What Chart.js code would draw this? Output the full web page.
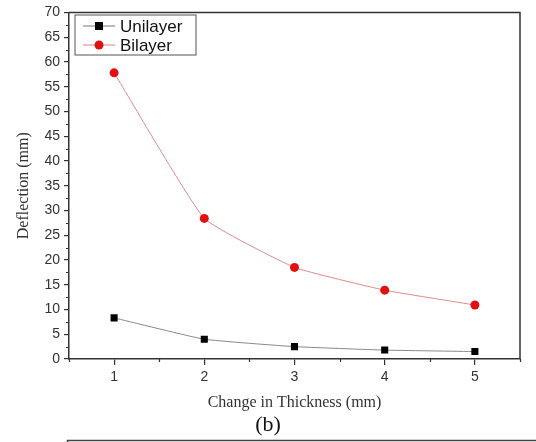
<!DOCTYPE html>
<html>
<head>
<meta charset="utf-8">
<script src="https://cdn.jsdelivr.net/npm/chart.js@4.4.0/dist/chart.umd.min.js"></script>
<style>
html,body{margin:0;padding:0;background:#fff;}
#wrap{width:536px;height:442px;position:relative;}
</style>
</head>
<body>
<div id="wrap"><canvas id="c" width="536" height="442"></canvas></div>
<script>
const thickness = [1, 2, 3, 4, 5];
const unilayer = [8.3, 4.0, 2.5, 1.8, 1.5];
const bilayer = [57.8, 28.4, 18.5, 13.9, 10.9];
const seriesNames = ['Unilayer', 'Bilayer'];
const xTitle = 'Change in Thickness (mm)';
const yTitle = 'Deflection (mm)';
const panelLabel = '(b)';

const toPts = (xs, ys) => xs.map((x, i) => ({x: x, y: ys[i]}));
const isMajorX = v => Number.isInteger(v);
const isMajorY = v => v % 5 === 0;

const framePlugin = {
  id: 'frame',
  afterDraw(chart) {
    const {ctx, chartArea: a} = chart;
    const xs = chart.scales.x, ys = chart.scales.y;
    ctx.save();
    ctx.strokeStyle = '#333';
    ctx.lineWidth = 1.5;
    ctx.beginPath();
    ctx.moveTo(a.left, a.top);
    ctx.lineTo(a.right, a.top);
    ctx.lineTo(a.right, a.bottom);
    ctx.stroke();
    // minor ticks
    ctx.lineWidth = 1.2;
    ctx.beginPath();
    xs.ticks.forEach(t => {
      if (!isMajorX(t.value)) {
        const px = Math.round(xs.getPixelForValue(t.value)) + 0.5;
        ctx.moveTo(px, a.bottom);
        ctx.lineTo(px, a.bottom + 3);
      }
    });
    ys.ticks.forEach(t => {
      if (!isMajorY(t.value)) {
        const py = Math.round(ys.getPixelForValue(t.value)) + 0.5;
        ctx.moveTo(a.left, py);
        ctx.lineTo(a.left - 3, py);
      }
    });
    ctx.stroke();
    // legend box
    const lx = 75, ly = 15, lw = 121, lh = 40;
    ctx.lineWidth = 1;
    ctx.strokeStyle = '#555';
    ctx.strokeRect(lx, ly, lw, lh);
    const items = [
      {name: seriesNames[0], line: '#777', fill: '#000', shape: 'rect', y: ly + 11},
      {name: seriesNames[1], line: '#e08080', fill: '#e01010', shape: 'circle', y: ly + 30}
    ];
    items.forEach(it => {
      ctx.strokeStyle = it.line;
      ctx.lineWidth = 1;
      ctx.beginPath();
      ctx.moveTo(lx + 8, it.y);
      ctx.lineTo(lx + 40, it.y);
      ctx.stroke();
      ctx.fillStyle = it.fill;
      if (it.shape === 'rect') {
        ctx.fillRect(lx + 24 - 4, it.y - 4, 8, 8);
      } else {
        ctx.beginPath();
        ctx.arc(lx + 24, it.y, 4.5, 0, Math.PI * 2);
        ctx.fill();
      }
      ctx.fillStyle = '#111';
      ctx.font = '17px "Liberation Sans", Arial, sans-serif';
      ctx.textBaseline = 'middle';
      ctx.textAlign = 'left';
      ctx.fillText(it.name, lx + 45, it.y + 1);
    });
    // panel label
    ctx.fillStyle = '#111';
    ctx.font = '22px "Liberation Serif", "Times New Roman", serif';
    ctx.textAlign = 'center';
    ctx.textBaseline = 'middle';
    ctx.fillText(panelLabel, 268, 425);
    // next figure frame edge
    ctx.strokeStyle = '#444';
    ctx.lineWidth = 1.5;
    ctx.beginPath();
    ctx.moveTo(67, 440.5);
    ctx.lineTo(536, 440.5);
    ctx.moveTo(67.5, 440);
    ctx.lineTo(67.5, 442);
    ctx.stroke();
    ctx.restore();
  }
};

new Chart(document.getElementById('c'), {
  type: 'scatter',
  data: {
    datasets: [
      {
        label: seriesNames[0],
        data: toPts(thickness, unilayer),
        showLine: true,
        borderColor: '#888',
        borderWidth: 1,
        backgroundColor: '#000',
        pointBackgroundColor: '#000',
        pointBorderColor: '#000',
        pointStyle: 'rect',
        pointRadius: 5,
        pointBorderWidth: 0,
        tension: 0.12
      },
      {
        label: seriesNames[1],
        data: toPts(thickness, bilayer),
        showLine: true,
        borderColor: '#e08a8a',
        borderWidth: 1,
        backgroundColor: '#e01010',
        pointBackgroundColor: '#e01010',
        pointBorderColor: '#e01010',
        pointStyle: 'circle',
        pointRadius: 4.5,
        pointBorderWidth: 0,
        tension: 0.12
      }
    ]
  },
  options: {
    responsive: false,
    animation: false,
    layout: {padding: {left: 10, top: 12, right: 16, bottom: 26}},
    plugins: {legend: {display: false}, tooltip: {enabled: false}},
    scales: {
      x: {
        type: 'linear',
        min: 0.5, max: 5.5,
        afterFit(s) { s.height = 57; },
        ticks: {
          stepSize: 0.5,
          autoSkip: false,
          maxRotation: 0,
          padding: 4,
          color: '#333',
          font: {family: '"Liberation Sans", Arial, sans-serif', size: 14},
          callback: v => isMajorX(v) ? String(v) : ''
        },
        grid: {display: true, drawOnChartArea: false, drawTicks: true, tickLength: 6, lineWidth: 1.2,
          color: '#333',
          tickColor: c => (c.tick && isMajorX(c.tick.value)) ? '#333' : 'rgba(0,0,0,0)'},
        border: {color: '#333', width: 1.5},
        title: {display: true, text: xTitle, color: '#333',
          font: {family: '"Liberation Serif", "Times New Roman", serif', size: 16}, padding: {top: 4, bottom: 4}}
      },
      y: {
        min: 0, max: 70,
        afterFit(s) { s.width = 59; },
        ticks: {
          stepSize: 2.5,
          autoSkip: false,
          padding: 4,
          color: '#333',
          font: {family: '"Liberation Sans", Arial, sans-serif', size: 14},
          callback: v => isMajorY(v) ? String(v) : ''
        },
        grid: {display: true, drawOnChartArea: false, drawTicks: true, tickLength: 5, lineWidth: 1.2,
          color: '#333',
          tickColor: c => (c.tick && isMajorY(c.tick.value)) ? '#333' : 'rgba(0,0,0,0)'},
        border: {color: '#333', width: 1.5},
        title: {display: true, text: yTitle, color: '#333',
          font: {family: '"Liberation Serif", "Times New Roman", serif', size: 16}, padding: {top: 4, bottom: 6}}
      }
    }
  },
  plugins: [framePlugin]
});
</script>
</body>
</html>
